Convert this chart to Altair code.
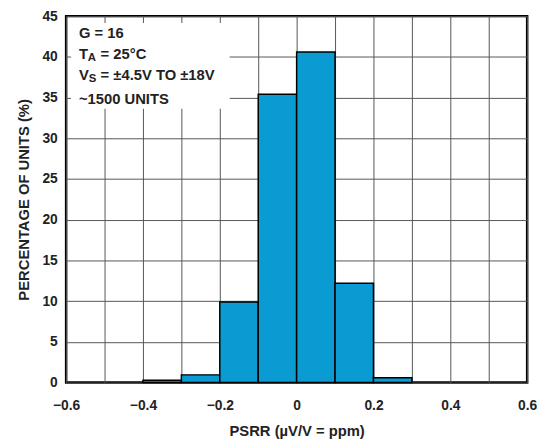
import altair as alt
import pandas as pd

bin_start = [-0.4, -0.3, -0.2, -0.1, 0.0, 0.1, 0.2]
bin_end = [-0.3, -0.2, -0.1, 0.0, 0.1, 0.2, 0.3]
percent = [0.3, 0.95, 9.9, 35.4, 40.6, 12.2, 0.6]

grid_x = [round(-0.6 + 0.1 * i, 1) for i in range(13)]
y_ticks = list(range(0, 50, 5))

df = pd.DataFrame({"x0": bin_start, "x1": bin_end, "p": percent})

FONT = "Liberation Sans"
BLUE = "#0A9BD2"
INK = "#222222"

xscale = alt.Scale(domain=[-0.6, 0.6], nice=False)
yscale = alt.Scale(domain=[0, 45], nice=False)

xaxis = alt.Axis(
    values=grid_x,
    labelExpr="abs(datum.value*10 % 2) > 0.5 ? '' : (datum.value == 0 ? '0' : replace(format(datum.value, '.1f'), '-', '\u2013'))",
    ticks=False, grid=True, gridColor="#555555", gridWidth=1,
    domain=False, labelFont=FONT, labelFontSize=14, labelFontWeight="bold",
    labelColor=INK, labelPadding=16, title="PSRR (\u00b5V/V = ppm)",
    titleFont=FONT, titleFontSize=15, titleFontWeight="bold",
    titleColor=INK, titlePadding=12, labelFlush=False,
)
yaxis = alt.Axis(
    values=y_ticks, ticks=False, grid=True, gridColor="#555555", gridWidth=1,
    domain=False, labelFont=FONT, labelFontSize=14, labelFontWeight="bold",
    labelColor=INK, labelPadding=9, title="PERCENTAGE OF UNITS (%)",
    titleFont=FONT, titleFontSize=15, titleFontWeight="bold",
    titleColor=INK, titlePadding=11,
)

bars = alt.Chart(df).mark_rect(color=BLUE, stroke="black", strokeWidth=1.5).encode(
    x=alt.X("x0:Q", scale=xscale, axis=xaxis),
    x2="x1:Q",
    y=alt.Y("p:Q", scale=yscale, axis=yaxis),
    y2=alt.datum(0),
)

box = alt.Chart(pd.DataFrame({"a": [0]})).mark_rect(color="white").encode(
    x=alt.value(5), x2=alt.value(166), y=alt.value(7), y2=alt.value(94)
)

def txt(s, x, y, size=15):
    return alt.Chart(pd.DataFrame({"t": [s]})).mark_text(
        align="left", baseline="middle", font=FONT, fontSize=size,
        fontWeight="bold", color=INK
    ).encode(text="t:N", x=alt.value(x), y=alt.value(y))

lines = [
    txt("G = 16", 13, 17),
    txt("T", 13, 39), txt("A", 22, 43, 11.5), txt("= 25\u00b0C", 35, 39),
    txt("V", 13, 60), txt("S", 23, 64, 11.5), txt("= \u00b14.5V TO \u00b118V", 35, 60),
    txt("~1500 UNITS", 13, 84),
]

chart = alt.layer(bars, box, *lines).properties(
    width=468, height=372,
    autosize=alt.AutoSizeParams(type="none"),
    padding={"left": 59, "top": 5, "right": 10, "bottom": 55},
).configure_view(stroke="black", strokeWidth=2.5)

chart.save("out.html", embed_options={"renderer": "svg", "actions": False})
